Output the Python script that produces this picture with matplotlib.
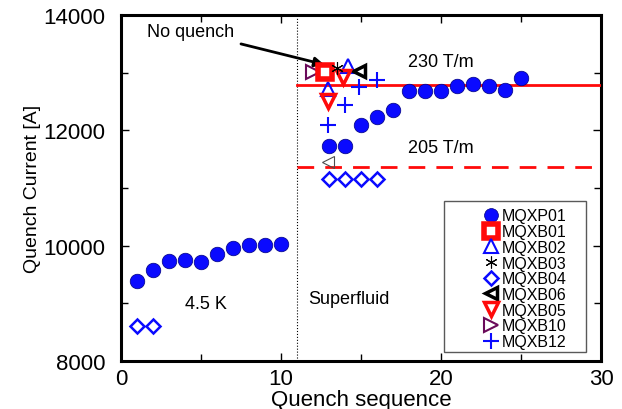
import numpy as np
import matplotlib.pyplot as plt
from matplotlib.patches import Rectangle

plt.rcParams['font.family'] = ['Liberation Sans', 'DejaVu Sans']

# MQXP01 - 4.5 K and superfluid
seq_45k = [1, 2, 3, 4, 5, 6, 7, 8, 9, 10]
mqxp01_45k = [9380, 9575, 9737, 9748, 9719, 9858, 9957, 10014, 10009, 10037]
seq_sf = [13, 14, 15, 16, 17, 18, 19, 20, 21, 22, 23, 24, 25]
mqxp01_sf = [11724, 11724, 12095, 12232, 12348, 12688, 12677, 12688,
             12775, 12799, 12764, 12705, 12914]

# other magnets
mqxb01_x, mqxb01_y = [12.75], [13007]
mqxb02_x, mqxb02_y = [14.2, 12.96], [13121, 12718]
mqxb03_x, mqxb03_y = [13.48], [13081]
mqxb04_x = [1, 2, 13, 14, 15, 16]
mqxb04_y = [8605, 8605, 11158, 11158, 11158, 11158]
mqxb06_x, mqxb06_y = [14.9], [13035]
mqxb06b_x, mqxb06b_y = [12.96], [11447]
mqxb05_x, mqxb05_y = [13.9, 12.96], [12931, 12515]
mqxb10_x, mqxb10_y = [12.02], [13007]
mqxb12_x = [14.9, 15.98, 14.0, 12.96]
mqxb12_y = [12747, 12873, 12446, 12099]

# limits for gradients
lim_230 = 12790
lim_205 = 11360

blue = '#0a0aff'
red = '#ff0a0a'
purple = '#6a0a5a'

fig = plt.figure(figsize=(6.22, 4.10), dpi=100)
ax = fig.add_axes([0.1945, 0.117, 0.772, 0.844])

ax.plot(seq_45k + seq_sf, mqxp01_45k + mqxp01_sf, 'o', color=blue, mec='#000080',
        mew=0.5, ms=10.5, label='MQXP01', zorder=5)
ax.plot(mqxb01_x, mqxb01_y, 's', mfc='white', mec=red, mew=4, ms=10, label='MQXB01', zorder=6)
ax.plot(mqxb02_x, mqxb02_y, '^', mfc='none', mec=blue, mew=1.5, ms=10, label='MQXB02', zorder=5)
ax.plot(mqxb03_x, mqxb03_y, marker=(6, 2, 0), ls='none', color='k', mew=0.8, ms=9,
        label='MQXB03', zorder=7)
ax.plot(mqxb04_x, mqxb04_y, 'D', mfc='none', mec=blue, mew=1.8, ms=7, label='MQXB04', zorder=5)
ax.plot(mqxb06_x, mqxb06_y, '<', mfc='none', mec='k', mew=2.5, ms=9, label='MQXB06', zorder=5)
ax.plot(mqxb06b_x, mqxb06b_y, '<', mfc='none', mec='0.3', mew=0.8, ms=9, zorder=5)
ax.plot(mqxb05_x, mqxb05_y, 'v', mfc='none', mec=red, mew=2.5, ms=10, label='MQXB05', zorder=5)
ax.plot(mqxb10_x, mqxb10_y, '>', mfc='none', mec=purple, mew=1.5, ms=10, label='MQXB10', zorder=5)
ax.plot(mqxb12_x, mqxb12_y, '+', color=blue, mew=1.5, ms=12, label='MQXB12', zorder=5)

# gradient lines and 4.5K / superfluid split
ax.plot([11, 30], [lim_230, lim_230], '-', color=red, lw=2, zorder=3)
ax.plot([11, 30], [lim_205, lim_205], '--', color=red, lw=2, dashes=(6, 4), zorder=3)
ax.axvline(11, color='k', ls=':', lw=0.8, zorder=2)

ax.text(20, 13190, '230 T/m', fontsize=13, ha='center', va='center')
ax.text(20, 11707, '205 T/m', fontsize=13, ha='center', va='center')
ax.text(5.3, 8990, '4.5 K', fontsize=13, ha='center', va='center')
ax.text(14.25, 9080, 'Superfluid', fontsize=13, ha='center', va='center')
ax.annotate('No quench', xy=(12.7, 13140), xytext=(1.6, 13717), fontsize=13,
            ha='left', va='center',
            arrowprops=dict(arrowstyle='-|>', color='k', lw=2, mutation_scale=14,
                            shrinkA=4, shrinkB=0))

ax.set_xlim(0, 30)
ax.set_ylim(8000, 14000)
ax.set_xticks([0, 10, 20, 30])
ax.set_xticks([5, 15, 25], minor=True)
ax.set_yticks([8000, 10000, 12000, 14000])
ax.set_yticks([9000, 11000, 13000], minor=True)
ax.tick_params(which='both', direction='in', top=True, right=True, labelsize=16)
ax.tick_params(axis='x', pad=5)
ax.tick_params(axis='y', pad=11)
ax.tick_params(which='major', length=6, width=1)
ax.tick_params(which='minor', length=5, width=1)
for s in ax.spines.values():
    s.set_linewidth(2.2)

ax.set_xlabel('Quench sequence', fontsize=16, labelpad=0)
ax.set_ylabel('Quench Current [A]', fontsize=14, labelpad=2)

# legend box
ax.add_patch(Rectangle((0.673, 0.027), 0.296, 0.436, transform=ax.transAxes,
                       fill=False, lw=1, edgecolor='0.35', zorder=7))
ax.legend(loc='upper left', bbox_to_anchor=(0.753, 0.441), frameon=False,
          fontsize=11.5, handlelength=1, handletextpad=0.2, borderpad=0,
          borderaxespad=0, labelspacing=0.045, markerscale=0.95)

fig.savefig('out.png', dpi=100)
